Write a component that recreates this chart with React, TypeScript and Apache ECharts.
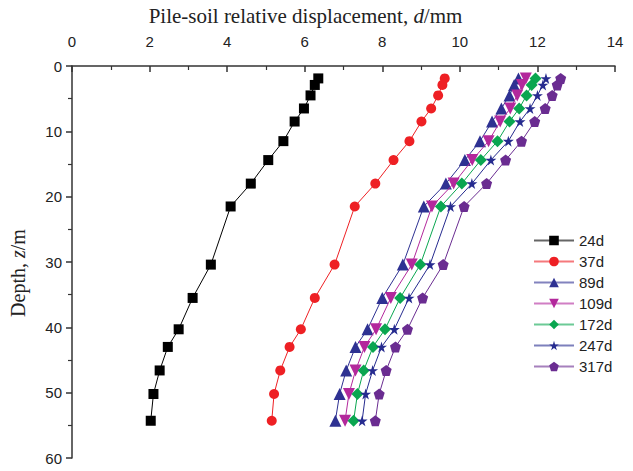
import React, { useEffect, useRef } from "react";
import * as echarts from "echarts";

const depths = [1.9, 2.9, 4.5, 6.5, 8.5, 11.5, 14.4, 18.0, 21.5, 30.4, 35.5, 40.3, 43.0, 46.6, 50.2, 54.3];

const d24 = [6.35, 6.26, 6.15, 5.98, 5.74, 5.45, 5.06, 4.61, 4.09, 3.58, 3.11, 2.75, 2.47, 2.26, 2.1, 2.03];
const d37 = [9.61, 9.55, 9.44, 9.26, 9.01, 8.7, 8.29, 7.82, 7.29, 6.77, 6.26, 5.9, 5.61, 5.37, 5.21, 5.15];
const d89 = [11.51, 11.4, 11.28, 11.07, 10.83, 10.52, 10.13, 9.64, 9.07, 8.53, 8.0, 7.62, 7.31, 7.07, 6.9, 6.79];
const d109 = [11.7, 11.6, 11.48, 11.3, 11.04, 10.74, 10.32, 9.84, 9.28, 8.76, 8.22, 7.84, 7.54, 7.31, 7.14, 7.04];
const d172 = [11.95, 11.85, 11.72, 11.53, 11.28, 10.97, 10.54, 10.05, 9.51, 8.98, 8.46, 8.07, 7.76, 7.52, 7.36, 7.26];
const d247 = [12.22, 12.14, 12.0, 11.81, 11.55, 11.25, 10.8, 10.31, 9.76, 9.23, 8.69, 8.31, 7.98, 7.75, 7.57, 7.48];
const d317 = [12.6, 12.51, 12.38, 12.2, 11.93, 11.59, 11.18, 10.69, 10.11, 9.57, 9.04, 8.65, 8.34, 8.1, 7.92, 7.82];

const seriesNames = ["24d", "37d", "89d", "109d", "172d", "247d", "317d"];
const seriesValues = [d24, d37, d89, d109, d172, d247, d317];

const colors = ["#000000", "#ee2024", "#2e3192", "#b3289c", "#0aa650", "#262b8f", "#6a2c91"];
const STAR = "path://M50,0 L61,35 L98,35 L68,57 L79,91 L50,70 L21,91 L32,57 L2,35 L39,35 Z";
const PENT = "path://M50,0 L98,36 L80,95 L20,95 L2,36 Z";
const symbols = ["rect", "circle", "triangle", "triangle", "diamond", STAR, PENT];
const symbolRot = [0, 0, 0, 180, 0, 0, 0];
const symbolSizes = [10, 10, 12, 12, 12, 11, 11];

export default function App() {
  const ref = useRef<HTMLDivElement>(null);
  useEffect(() => {
    if (!ref.current) return;
    const chart = echarts.init(ref.current, null, { renderer: "svg" });
    const serif = "Liberation Serif";
    const sans = "Liberation Sans";
    chart.setOption({
      animation: false,
      backgroundColor: "#ffffff",
      grid: { left: 71, top: 64, right: 18, bottom: 13 },
      legend: {
        orient: "vertical",
        left: 528,
        top: 228,
        itemWidth: 40,
        itemHeight: 12,
        itemGap: 6,
        lineStyle: { opacity: 0.6 },
        textStyle: { fontFamily: sans, fontSize: 15, color: "#222" },
        data: seriesNames,
      },
      xAxis: {
        type: "value",
        position: "top",
        min: 0,
        max: 14,
        interval: 2,
        name: "{a|Pile-soil relative displacement, }{i|d}{a|/mm}",
        nameLocation: "middle",
        nameGap: 40,
        nameTextStyle: {
          padding: [0, 76, 0, 0],
          rich: {
            a: { fontFamily: serif, fontSize: 21, color: "#222" },
            i: { fontFamily: serif, fontSize: 21, fontStyle: "italic", color: "#222" },
          },
        },
        axisLine: { show: true, lineStyle: { color: "#333", width: 1.5 } },
        axisTick: { show: true, inside: true, length: 6, lineStyle: { color: "#333", width: 1.5 } },
        minorTick: { show: true, splitNumber: 2, length: 4, lineStyle: { color: "#333", width: 1.2 } },
        axisLabel: { fontFamily: sans, fontSize: 15, color: "#222", margin: 17 },
        splitLine: { show: false },
      },
      yAxis: {
        type: "value",
        inverse: true,
        min: 0,
        max: 60,
        interval: 10,
        name: "{a|Depth, }{i|z}{a|/m}",
        nameLocation: "middle",
        nameGap: 44,
        nameRotate: 90,
        nameTextStyle: {
          padding: [0, 22, 0, 0],
          rich: {
            a: { fontFamily: serif, fontSize: 20, color: "#222" },
            i: { fontFamily: serif, fontSize: 20, fontStyle: "italic", color: "#222" },
          },
        },
        axisLine: { show: true, lineStyle: { color: "#333", width: 1.5 } },
        axisTick: { show: true, inside: false, length: 6, lineStyle: { color: "#333", width: 1.5 } },
        minorTick: { show: true, splitNumber: 2, length: 4, lineStyle: { color: "#333", width: 1.2 } },
        axisLabel: { fontFamily: sans, fontSize: 15, color: "#222", margin: 10 },
        splitLine: { show: false },
      },
      series: seriesNames.map((name, i) => ({
        name,
        type: "line",
        data: seriesValues[i].map((v, k) => [v, depths[k]]),
        symbol: symbols[i],
        symbolRotate: symbolRot[i],
        symbolSize: symbolSizes[i],
        showAllSymbol: true,
        itemStyle: { color: colors[i] },
        lineStyle: { color: colors[i], width: 1 },
        z: 2 + i,
      })),
    });
    return () => chart.dispose();
  }, []);
  return <div ref={ref} style={{ width: 633, height: 471, position: "absolute", left: 0, top: 0 }} />;
}
